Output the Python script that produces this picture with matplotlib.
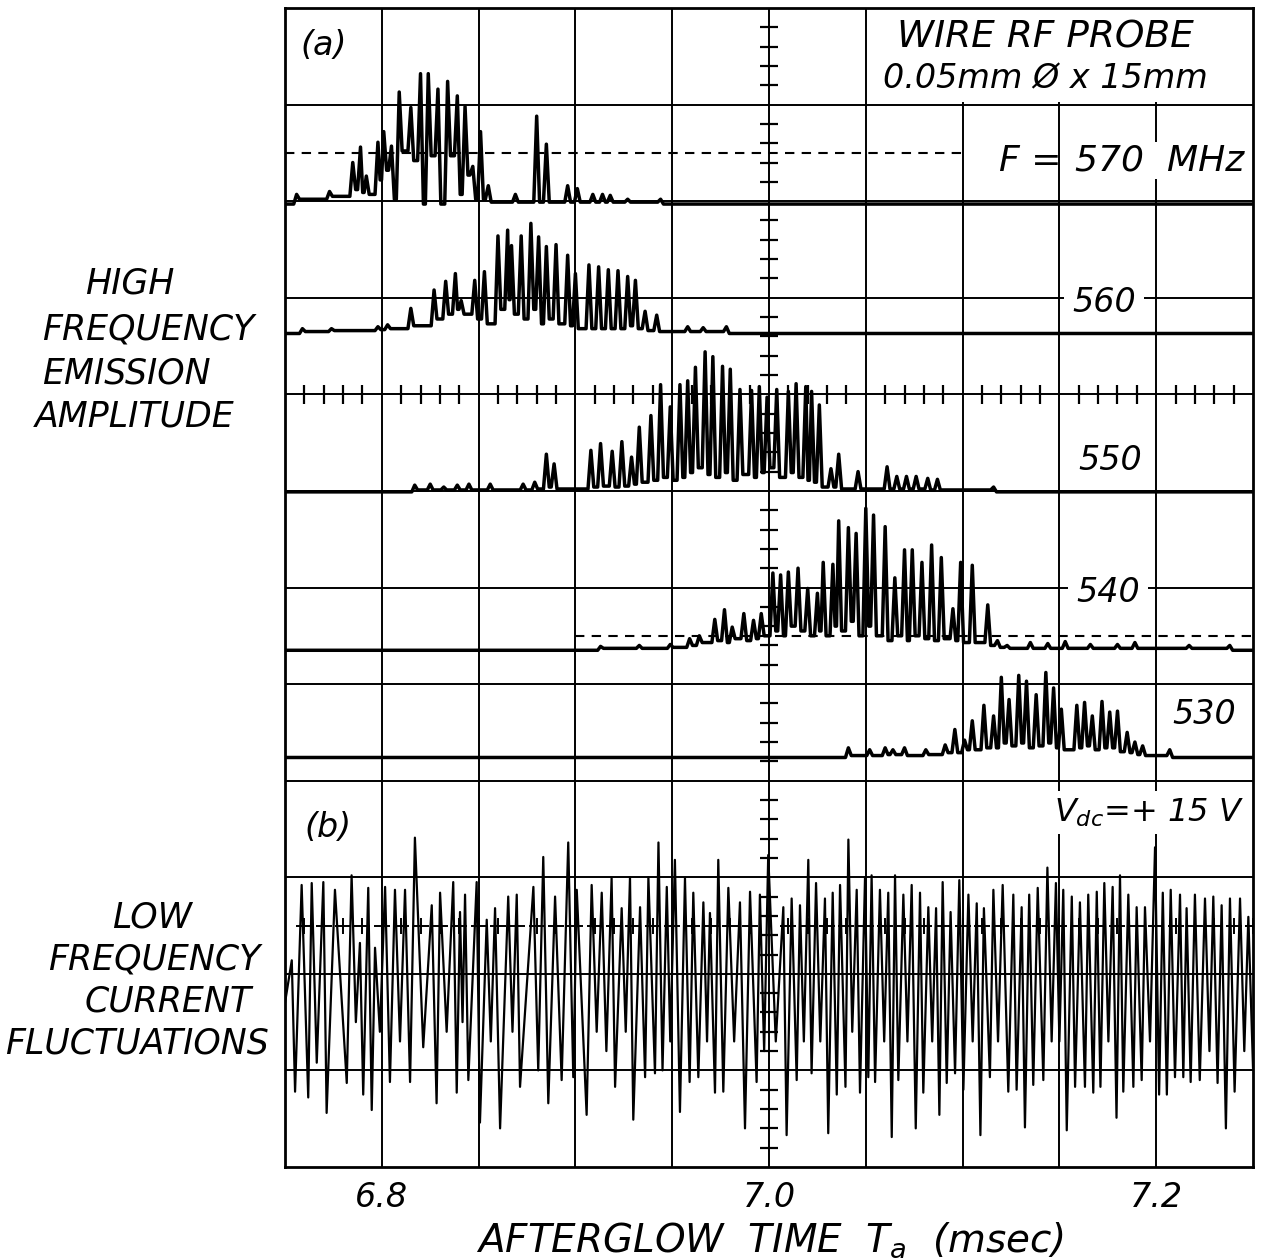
import matplotlib
matplotlib.use("Agg")
import matplotlib.pyplot as plt
from matplotlib.patches import Rectangle
import numpy as np

# ---------------- data (time in msec, amplitude in graticule divisions) ----------------
x_ticks = [6.8, 7.0, 7.2]
x_ticklabels = ["6.8", "7.0", "7.2"]

freq_labels = ["570", "560", "550", "540", "530"]
baselines = [9.97, 8.63, 6.99, 5.35, 4.24]

t570 = [6.756, 6.773, 6.785, 6.789, 6.792, 6.798, 6.801, 6.805, 6.809, 6.815,
        6.820, 6.824, 6.829, 6.834, 6.839, 6.843, 6.847, 6.851, 6.855, 6.869,
        6.880, 6.885, 6.896, 6.901, 6.909, 6.914, 6.918, 6.927, 6.944]
h570 = [0.10, 0.13, 0.43, 0.59, 0.29, 0.64, 0.75, 0.60, 1.16, 1.00,
        1.35, 1.35, 1.19, 1.27, 1.12, 1.01, 0.39, 0.75, 0.19, 0.10,
        0.91, 0.62, 0.19, 0.16, 0.10, 0.10, 0.09, 0.05, 0.05]
v570 = [0.05, 0.08, 0.15, 0.12, 0.10, 0.25, 0.35, 0.05, 0.55, 0.45,
        0.00, 0.50, 0.00, 0.50, 0.10, 0.30, 0.05, 0.05, 0.02, 0.02,
        0.02, 0.02, 0.02, 0.02, 0.02, 0.02, 0.02, 0.02]

t560 = [6.759, 6.774, 6.798, 6.803, 6.815, 6.827, 6.833, 6.838, 6.841, 6.848,
        6.853, 6.860, 6.865, 6.867, 6.872, 6.877, 6.881, 6.885, 6.890, 6.896,
        6.900, 6.907, 6.912, 6.917, 6.922, 6.927, 6.931, 6.936, 6.942, 6.958,
        6.966, 6.978]
h560 = [0.05, 0.05, 0.07, 0.09, 0.26, 0.45, 0.54, 0.62, 0.34, 0.55,
        0.64, 1.01, 1.07, 0.91, 1.01, 1.14, 1.00, 0.90, 0.92, 0.81,
        0.62, 0.71, 0.69, 0.66, 0.65, 0.59, 0.55, 0.23, 0.19, 0.07,
        0.06, 0.07]
v560 = [0.02, 0.03, 0.04, 0.05, 0.08, 0.15, 0.20, 0.25, 0.20, 0.15,
        0.10, 0.25, 0.35, 0.20, 0.15, 0.25, 0.10, 0.15, 0.10, 0.08,
        0.05, 0.05, 0.05, 0.05, 0.05, 0.08, 0.05, 0.03, 0.02, 0.02, 0.02]

t550 = [6.817, 6.825, 6.832, 6.839, 6.845, 6.856, 6.873, 6.879, 6.885, 6.889,
        6.908, 6.913, 6.919, 6.924, 6.929, 6.933, 6.939, 6.944, 6.949, 6.954,
        6.958, 6.962, 6.967, 6.971, 6.976, 6.980, 6.985, 6.991, 6.995, 6.999,
        7.004, 7.010, 7.014, 7.019, 7.022, 7.026, 7.032, 7.036, 7.046, 7.061,
        7.066, 7.071, 7.076, 7.082, 7.087, 7.116]
h550 = [0.07, 0.08, 0.05, 0.07, 0.08, 0.08, 0.08, 0.10, 0.39, 0.29,
        0.43, 0.50, 0.42, 0.52, 0.36, 0.67, 0.79, 1.11, 0.88, 1.11,
        1.15, 1.29, 1.45, 1.40, 1.30, 1.27, 1.06, 1.05, 1.09, 0.98,
        1.06, 1.04, 1.12, 1.09, 1.04, 0.90, 0.24, 0.39, 0.21, 0.26,
        0.16, 0.16, 0.16, 0.14, 0.13, 0.05]
v550 = [0.02, 0.02, 0.02, 0.02, 0.02, 0.02, 0.02, 0.03, 0.05, 0.03,
        0.05, 0.06, 0.05, 0.06, 0.08, 0.10, 0.12, 0.15, 0.12, 0.15,
        0.20, 0.25, 0.18, 0.15, 0.20, 0.12, 0.18, 0.15, 0.20, 0.25,
        0.15, 0.20, 0.15, 0.12, 0.10, 0.05, 0.05, 0.03, 0.03, 0.03,
        0.03, 0.03, 0.03, 0.02, 0.02]

t540 = [6.913, 6.933, 6.949, 6.959, 6.964, 6.972, 6.977, 6.981, 6.987, 6.992,
        6.996, 7.002, 7.006, 7.010, 7.015, 7.020, 7.025, 7.028, 7.033, 7.036,
        7.041, 7.045, 7.050, 7.054, 7.060, 7.065, 7.070, 7.074, 7.079, 7.084,
        7.089, 7.095, 7.099, 7.105, 7.113, 7.118, 7.123, 7.135, 7.144, 7.153,
        7.166, 7.180, 7.189, 7.217, 7.238]
h540 = [0.04, 0.05, 0.06, 0.12, 0.15, 0.32, 0.42, 0.24, 0.38, 0.31,
        0.38, 0.80, 0.78, 0.81, 0.85, 0.64, 0.59, 0.91, 0.89, 1.34,
        1.27, 1.21, 1.47, 1.40, 1.28, 0.75, 1.04, 1.04, 0.91, 1.09,
        0.96, 0.43, 0.91, 0.88, 0.47, 0.10, 0.05, 0.08, 0.07, 0.09,
        0.06, 0.06, 0.08, 0.05, 0.05]
v540 = [0.02, 0.02, 0.03, 0.05, 0.08, 0.10, 0.08, 0.12, 0.10, 0.12,
        0.15, 0.20, 0.15, 0.25, 0.20, 0.15, 0.20, 0.15, 0.25, 0.20,
        0.30, 0.15, 0.25, 0.15, 0.10, 0.15, 0.10, 0.15, 0.12, 0.10,
        0.12, 0.10, 0.08, 0.08, 0.05, 0.03, 0.02, 0.02, 0.02, 0.02,
        0.02, 0.02, 0.02, 0.02]

t530 = [7.041, 7.052, 7.060, 7.064, 7.070, 7.081, 7.091, 7.096, 7.101, 7.105,
        7.111, 7.116, 7.120, 7.124, 7.129, 7.133, 7.138, 7.143, 7.147, 7.151,
        7.159, 7.163, 7.167, 7.172, 7.176, 7.180, 7.185, 7.189, 7.193, 7.207]
h530 = [0.10, 0.08, 0.10, 0.08, 0.10, 0.08, 0.13, 0.29, 0.18, 0.38,
        0.54, 0.43, 0.83, 0.60, 0.85, 0.79, 0.65, 0.88, 0.72, 0.50,
        0.54, 0.57, 0.43, 0.58, 0.47, 0.48, 0.26, 0.16, 0.12, 0.08]
v530 = [0.02, 0.02, 0.03, 0.03, 0.02, 0.03, 0.05, 0.05, 0.08, 0.08,
        0.10, 0.10, 0.15, 0.12, 0.15, 0.10, 0.12, 0.15, 0.10, 0.08,
        0.10, 0.12, 0.08, 0.10, 0.10, 0.06, 0.05, 0.03, 0.02]

# low-frequency current trace (b): successive extrema, time (msec) and level (div)
b_time = [6.7500, 6.7535, 6.7552, 6.7586, 6.7620, 6.7638, 6.7664, 6.7698, 6.7715, 6.7758,
          6.7819, 6.7844, 6.7866, 6.7887, 6.7904, 6.7930, 6.7948, 6.7965, 6.7990, 6.8017,
          6.8042, 6.8068, 6.8094, 6.8120, 6.8146, 6.8171, 6.8214, 6.8258, 6.8283, 6.8301,
          6.8335, 6.8369, 6.8387, 6.8404, 6.8417, 6.8430, 6.8447, 6.8490, 6.8507, 6.8542,
          6.8563, 6.8585, 6.8611, 6.8653, 6.8675, 6.8697, 6.8714, 6.8783, 6.8808, 6.8834,
          6.8860, 6.8895, 6.8929, 6.8963, 6.8989, 6.9007, 6.9058, 6.9084, 6.9110, 6.9136,
          6.9160, 6.9187, 6.9205, 6.9239, 6.9260, 6.9282, 6.9299, 6.9334, 6.9360, 6.9377,
          6.9411, 6.9429, 6.9450, 6.9472, 6.9490, 6.9514, 6.9540, 6.9566, 6.9590, 6.9609,
          6.9635, 6.9661, 6.9680, 6.9695, 6.9721, 6.9738, 6.9764, 6.9790, 6.9820, 6.9850,
          6.9876, 6.9902, 6.9936, 6.9953, 6.9975, 6.9996, 7.0035, 7.0074, 7.0091, 7.0117,
          7.0143, 7.0160, 7.0180, 7.0203, 7.0220, 7.0243, 7.0265, 7.0289, 7.0306, 7.0329,
          7.0350, 7.0367, 7.0395, 7.0410, 7.0430, 7.0453, 7.0470, 7.0496, 7.0513, 7.0530,
          7.0548, 7.0573, 7.0595, 7.0616, 7.0634, 7.0651, 7.0668, 7.0694, 7.0715, 7.0737,
          7.0758, 7.0780, 7.0797, 7.0823, 7.0843, 7.0863, 7.0880, 7.0897, 7.0918, 7.0938,
          7.0961, 7.0983, 7.1004, 7.1030, 7.1052, 7.1073, 7.1092, 7.1110, 7.1141, 7.1159,
          7.1183, 7.1207, 7.1236, 7.1262, 7.1279, 7.1305, 7.1322, 7.1344, 7.1365, 7.1388,
          7.1417, 7.1438, 7.1460, 7.1482, 7.1500, 7.1520, 7.1538, 7.1564, 7.1581, 7.1606,
          7.1632, 7.1649, 7.1675, 7.1693, 7.1712, 7.1732, 7.1753, 7.1775, 7.1795, 7.1813,
          7.1830, 7.1856, 7.1882, 7.1899, 7.1925, 7.1942, 7.1968, 7.1994, 7.2015, 7.2034,
          7.2055, 7.2075, 7.2097, 7.2123, 7.2140, 7.2157, 7.2178, 7.2200, 7.2225, 7.2252,
          7.2275, 7.2295, 7.2317, 7.2338, 7.2360, 7.2381, 7.2405, 7.2433, 7.2455, 7.2476,
          7.2500]
b_level = [1.70, 2.14, 0.78, 2.92, 0.72, 2.94, 1.08, 2.95, 0.56, 2.87,
           0.87, 3.02, 1.50, 2.32, 0.75, 2.89, 0.59, 2.27, 1.40, 2.90,
           0.88, 2.87, 1.30, 2.87, 0.88, 3.41, 1.24, 2.71, 0.66, 2.84,
           1.40, 2.95, 0.77, 2.64, 1.50, 2.82, 0.90, 2.95, 0.46, 2.56,
           1.30, 2.68, 0.40, 2.80, 1.40, 2.82, 0.83, 2.90, 1.00, 3.21,
           0.66, 2.80, 0.90, 3.36, 0.93, 2.87, 0.54, 2.92, 1.40, 2.84,
           1.20, 2.99, 0.83, 2.68, 1.40, 3.00, 0.49, 2.69, 0.93, 3.00,
           0.97, 3.36, 1.00, 2.90, 1.30, 3.18, 0.57, 2.99, 0.88, 2.84,
           0.93, 2.74, 1.30, 2.63, 0.77, 3.18, 0.78, 2.89, 1.30, 2.74,
           0.40, 2.85, 0.88, 2.82, 1.20, 3.23, 1.30, 2.69, 0.33, 2.78,
           0.90, 2.71, 1.30, 3.18, 0.97, 2.94, 1.30, 2.78, 0.35, 2.84,
           0.75, 2.92, 0.83, 3.39, 1.40, 2.87, 0.77, 3.00, 0.93, 3.02,
           0.88, 2.87, 1.30, 2.84, 0.31, 3.02, 0.90, 2.82, 1.30, 2.92,
           0.40, 2.84, 0.77, 2.69, 1.30, 2.68, 0.54, 2.95, 0.87, 2.64,
           0.97, 2.97, 0.80, 2.82, 1.30, 2.73, 0.33, 2.68, 0.93, 2.87,
           1.30, 2.92, 0.78, 2.82, 0.80, 2.69, 0.41, 2.82, 0.85, 2.89,
           0.90, 3.10, 1.30, 2.94, 1.30, 2.87, 0.38, 2.80, 0.83, 2.74,
           0.83, 2.82, 0.77, 2.85, 0.83, 2.94, 1.30, 2.90, 0.51, 3.02,
           0.78, 2.82, 0.83, 2.69, 0.90, 2.69, 1.30, 3.31, 0.75, 2.84,
           0.75, 2.87, 0.93, 2.82, 0.93, 2.68, 0.88, 2.82, 0.90, 2.78,
           1.20, 2.80, 0.87, 2.71, 0.40, 2.78, 0.78, 2.78, 1.20, 2.59,
           1.03]

# ---------------- figure ----------------
W, H = 1262, 1260
fig = plt.figure(figsize=(W / 100, H / 100), dpi=100)
ax = fig.add_axes([285 / W, 93 / H, 968 / W, 1159 / H])
X0, X1 = 6.75, 7.25
ax.set_xlim(X0, X1)
ax.set_ylim(0, 12)

ink = "black"
grid_lw = 1.4

# graticule
for xg in np.arange(6.8, 7.21, 0.05):
    ax.axvline(xg, color=ink, lw=grid_lw, zorder=1)
for yg in range(1, 12):
    ax.axhline(yg, color=ink, lw=grid_lw, zorder=1)

# centre-line ticks (vertical centre line at 7.0)
ys_t = [y for y in np.arange(0.2, 12.0, 0.2) if abs(y - round(y)) > 0.05]
ax.hlines(ys_t, 7.0 - 0.0045, 7.0 + 0.0045, color=ink, lw=1.6, zorder=1)
# ticks on horizontal centre line (upper graticule)
xs_t = [x for x in np.arange(6.76, 7.25, 0.01) if abs(x / 0.05 - round(x / 0.05)) > 0.05]
ax.vlines(xs_t, 7.9, 8.1, color=ink, lw=1.6, zorder=1)
# ticks on centre line of lower graticule
xs_b = [x for x in np.arange(6.76, 7.25, 0.01) if abs(x - 7.0) > 0.003]
ax.plot(xs_b, [2.5] * len(xs_b), ls="none", marker="+", ms=11, mew=1.4, color=ink, zorder=1)

# white panel behind the probe description
ax.add_patch(Rectangle((7.0515, 11.03), 0.1985, 0.96, facecolor="white",
                       edgecolor="none", zorder=2))

# dashed reference levels
ax.plot([X0, 7.10], [10.5, 10.5], color=ink, lw=1.5, dashes=(4.5, 3.5), zorder=2)
ax.plot([6.90, X1], [5.5, 5.5], color=ink, lw=1.5, dashes=(4.5, 3.5), zorder=2)


def trace_xy(t, h, v, base):
    n = len(t)
    xs, ys = [X0], [base]
    for i in range(n):
        gl = t[i] - t[i - 1] if i > 0 else 1.0
        gr = t[i + 1] - t[i] if i < n - 1 else 1.0
        hwl = min(0.0015, 0.38 * gl)
        hwr = min(0.0015, 0.38 * gr)
        vl = v[i - 1] if i > 0 else 0.0
        vr = v[i] if i < n - 1 else 0.0
        xs += [t[i] - hwl, t[i], t[i] + hwr]
        ys += [base + vl, base + h[i], base + vr]
    xs.append(X1)
    ys.append(base)
    return xs, ys


series = [(t570, h570, v570), (t560, h560, v560), (t550, h550, v550),
          (t540, h540, v540), (t530, h530, v530)]
for (t, h, v), base in zip(series, baselines):
    xs, ys = trace_xy(t, h, v, base)
    ax.plot(xs, ys, color=ink, lw=2.5, solid_joinstyle="round", zorder=3)

# low-frequency trace
ax.plot(b_time, b_level, color=ink, lw=1.6, zorder=3)

# frame & ticks
for s in ax.spines.values():
    s.set_linewidth(2.0)
    s.set_zorder(5)
ax.set_yticks([])
ax.set_xticks(x_ticks)
ax.set_xticklabels(x_ticklabels, fontsize=24, fontstyle="italic")
ax.tick_params(axis="x", length=0, pad=10)

ital = dict(fontstyle="italic", color=ink)
white = dict(facecolor="white", edgecolor="none", pad=4)

# in-plot annotations
ax.text(6.758, 11.61, "(a)", fontsize=24, ha="left", va="center", zorder=6, **ital)
ax.text(6.760, 3.51, "(b)", fontsize=24, ha="left", va="center", zorder=6, **ital)
ax.text(7.143, 11.69, "WIRE RF PROBE", fontsize=27, ha="center", va="center", zorder=6, **ital)
ax.text(7.143, 11.27, "0.05mm Ø x 15mm", fontsize=24, ha="center", va="center", zorder=6, **ital)
ax.text(7.119, 10.42, "F =", fontsize=26, ha="left", va="center", zorder=6, **ital)
ax.text(7.158, 10.42, "570  MHz", fontsize=26, ha="left", va="center", zorder=6,
        bbox=dict(facecolor="white", edgecolor="none", pad=1), **ital)

ax.text(7.173, 8.95, freq_labels[1], fontsize=24, ha="center", va="center", zorder=6,
        bbox=dict(facecolor="white", edgecolor="none", pad=6), **ital)
ax.text(7.176, 7.32, freq_labels[2], fontsize=24, ha="center", va="center", zorder=6, **ital)
ax.text(7.175, 5.95, freq_labels[3], fontsize=24, ha="center", va="center", zorder=6,
        bbox=dict(facecolor="white", edgecolor="none", pad=6), **ital)
ax.text(7.225, 4.68, freq_labels[4], fontsize=24, ha="center", va="center", zorder=6, **ital)
ax.text(7.245, 3.67, r"$V_{dc}$=+ 15 V", fontsize=23, ha="right", va="center", zorder=6,
        bbox=white, **ital)

# left-hand axis descriptions
def ftext(xpx, ypx, s, size=25):
    fig.text(xpx / W, 1 - ypx / H, s, fontsize=size, ha="left", va="center", **ital)

ftext(85, 283, "HIGH")
ftext(42, 329, "FREQUENCY")
ftext(42, 373, "EMISSION")
ftext(35, 417, "AMPLITUDE")
ftext(112, 917, "LOW")
ftext(48, 960, "FREQUENCY")
ftext(85, 1002, "CURRENT")
ftext(5, 1044, "FLUCTUATIONS")

fig.text(770 / W, 1 - 1240 / H, r"AFTERGLOW  TIME  $T_a$  (msec)", fontsize=28,
         ha="center", va="center", **ital)

fig.savefig("out.png", dpi=100, facecolor="white")
